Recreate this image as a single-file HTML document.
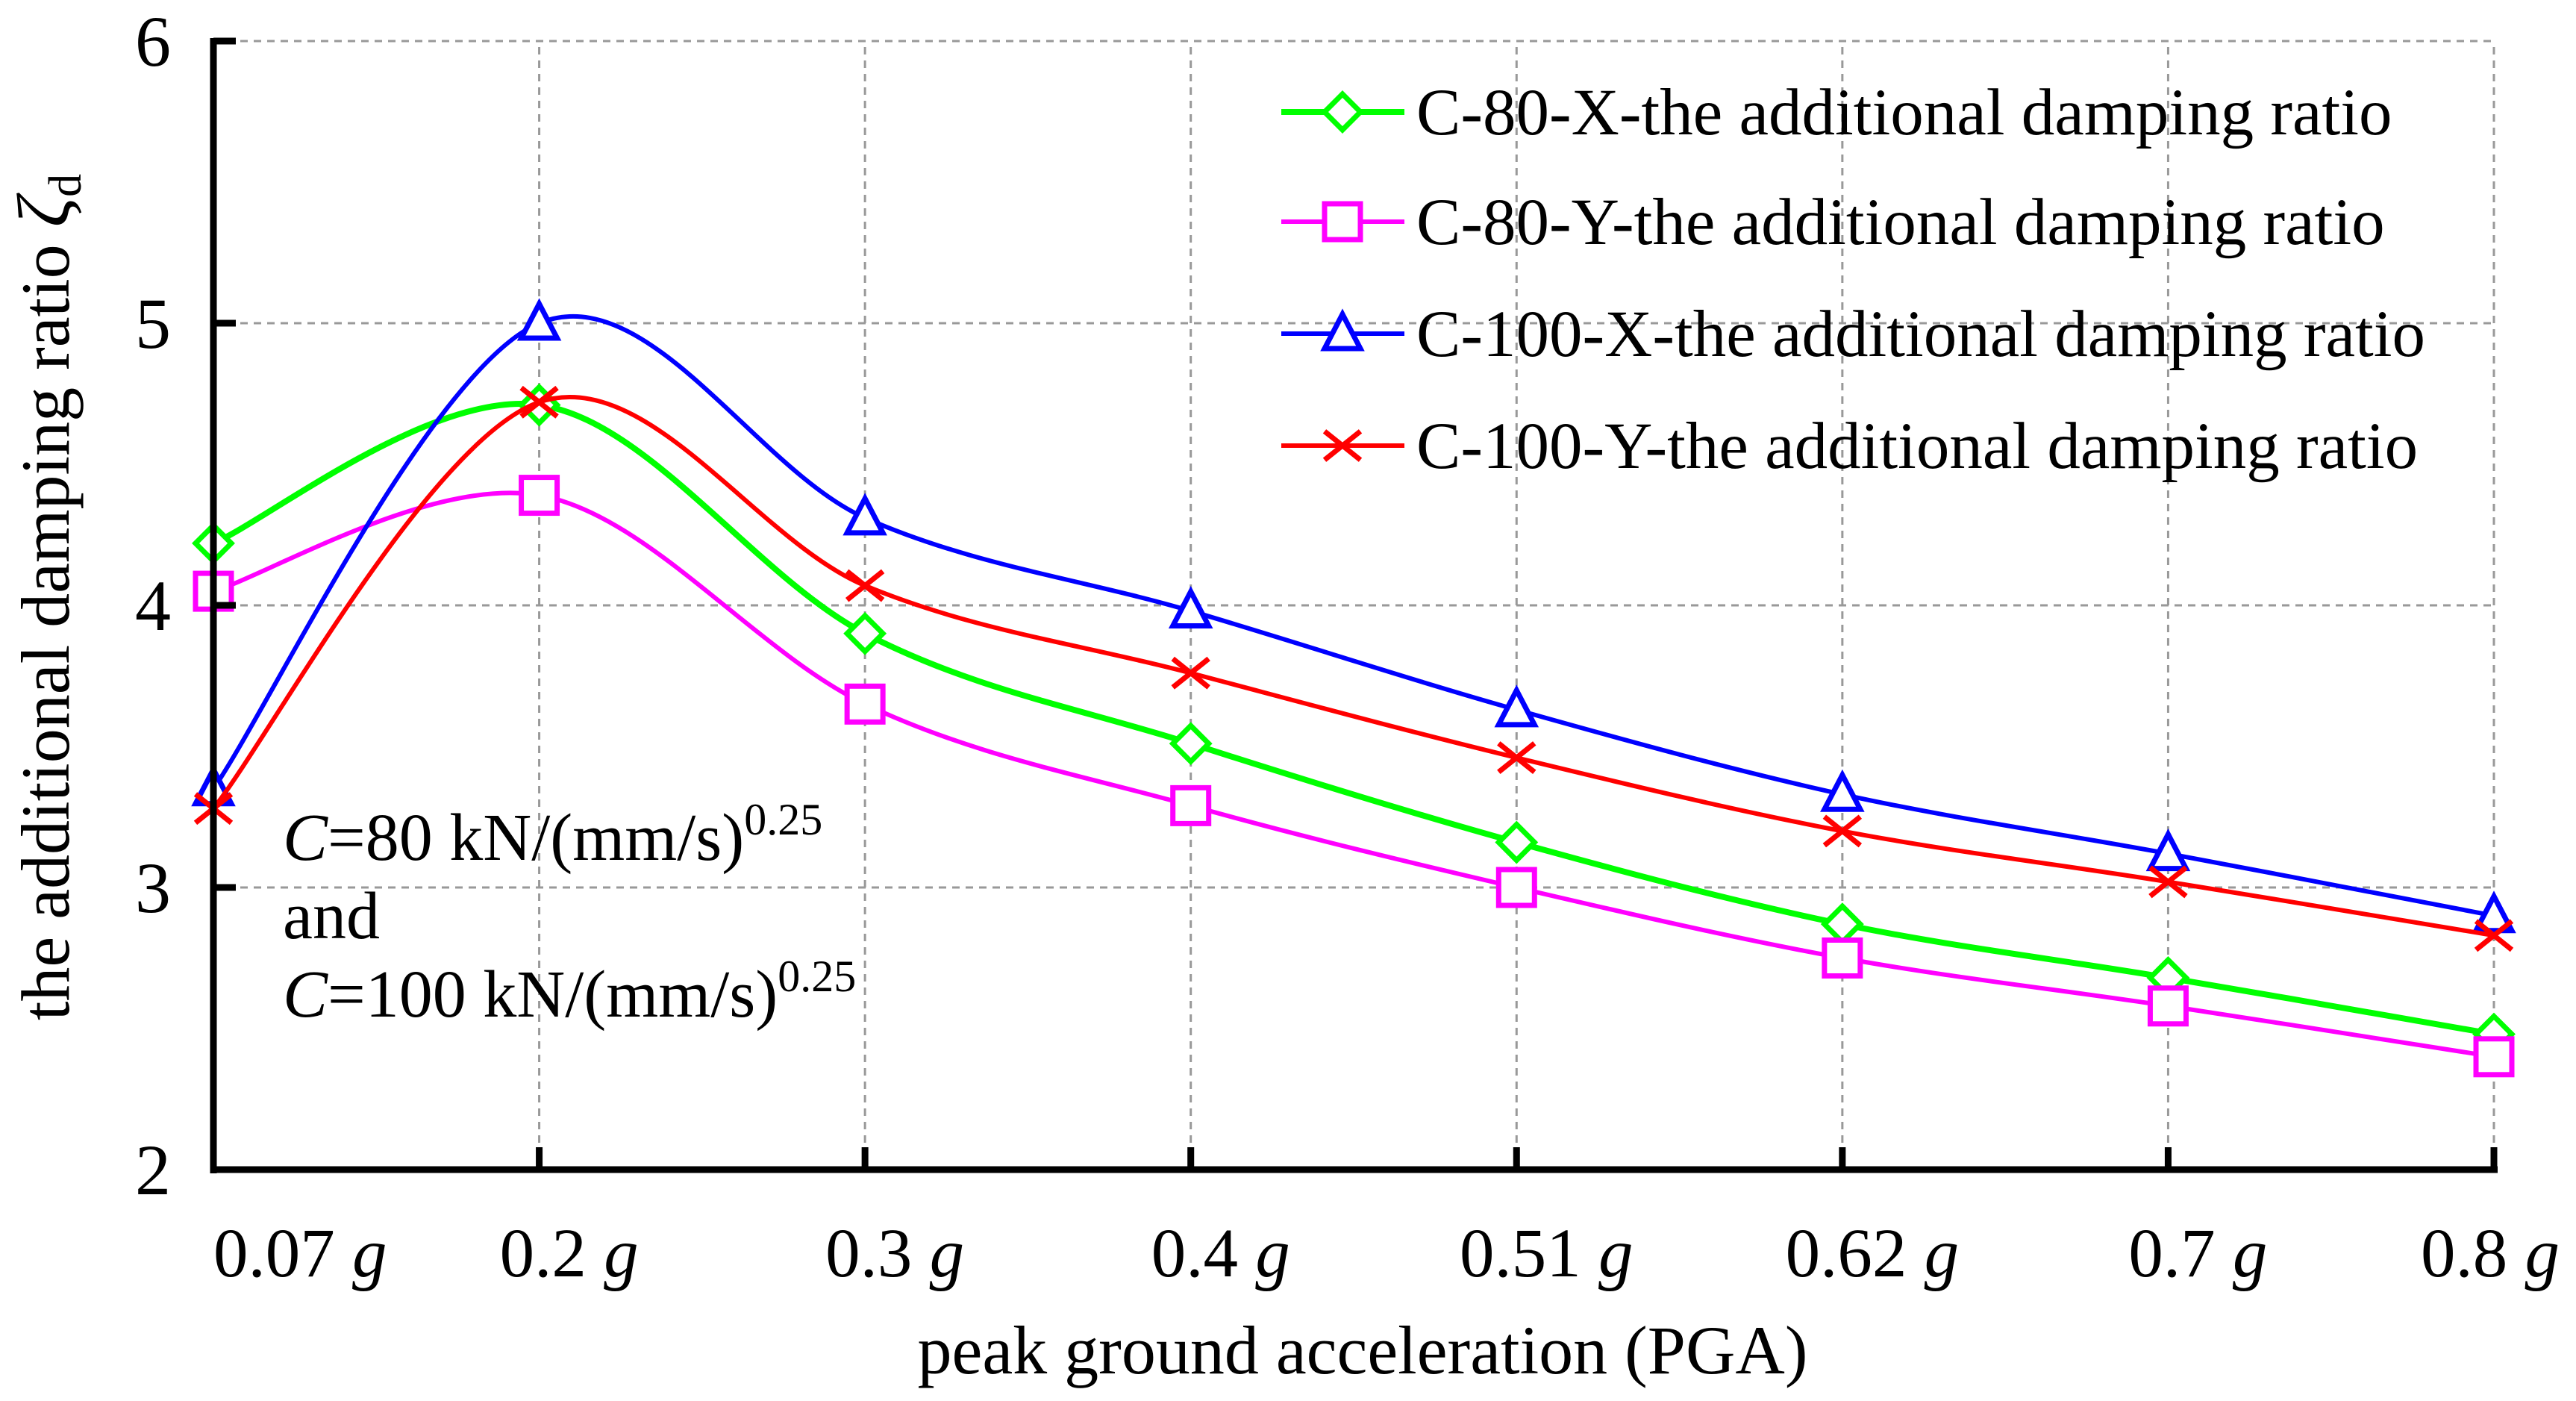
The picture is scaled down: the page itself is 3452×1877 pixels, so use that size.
<!DOCTYPE html>
<html><head><meta charset="utf-8"><style>
html,body{margin:0;padding:0;background:#fff;}
svg{display:block;font-family:"Liberation Serif",serif;}
</style></head><body>
<svg id="chart" width="3452" height="1877" viewBox="0 0 3452 1877" xmlns="http://www.w3.org/2000/svg">
<g id="grid"></g>
<g id="series"></g>
<g id="axes"></g>
<g id="legend"></g>
<text x="92" y="800" transform="rotate(-90 92 800)" text-anchor="middle" font-size="92">the additional  damping ratio <tspan font-style="italic" font-size="100">ζ</tspan><tspan font-size="62" dy="16">d</tspan></text>
<text x="1826" y="1840" text-anchor="middle" font-size="92">peak ground acceleration (PGA)</text>
<g font-size="90">
<text x="379" y="1152"><tspan font-style="italic">C</tspan>=80 kN/(mm/s)<tspan font-size="60" dy="-34">0.25</tspan></text>
<text x="379" y="1257">and</text>
<text x="379" y="1362"><tspan font-style="italic">C</tspan>=100 kN/(mm/s)<tspan font-size="60" dy="-34">0.25</tspan></text>
</g>
</svg>
<script>
const categories = ["0.07","0.2","0.3","0.4","0.51","0.62","0.7","0.8"];
const c80x = [4.22,4.71,3.90,3.51,3.16,2.87,2.68,2.48];
const c80y = [4.05,4.39,3.65,3.29,3.00,2.75,2.58,2.40];
const c100x = [3.35,5.00,4.31,3.98,3.63,3.33,3.12,2.90];
const c100y = [3.28,4.72,4.07,3.76,3.46,3.20,3.02,2.83];
const yTicks = [2,3,4,5,6];
const seriesNames = ["C-80-X-the additional damping ratio","C-80-Y-the additional damping ratio","C-100-X-the additional damping ratio","C-100-Y-the additional damping ratio"];

const NS="http://www.w3.org/2000/svg";
const X0=286, X1=3342, Y0=1567, Y1=55, YMIN=2, YMAX=6;
function xs(i){return X0+(X1-X0)*i/(categories.length-1);}
function ys(v){return Y0-(v-YMIN)/(YMAX-YMIN)*(Y0-Y1);}
function mk(tag,attrs,parent){const e=document.createElementNS(NS,tag);for(const k in attrs)e.setAttribute(k,attrs[k]);parent.appendChild(e);return e;}

const grid=document.getElementById('grid');
yTicks.forEach(t=>{ if(t===YMIN) return;
  const l=mk('line',{x1:X0,x2:X1,y1:ys(t),y2:ys(t),stroke:'#999','stroke-width':3,'stroke-dasharray':'10 8'},grid);
  
  
});
categories.forEach((c,i)=>{ if(i===0) return;
  const l=mk('line',{x1:xs(i),x2:xs(i),y1:Y0,y2:Y1,stroke:'#999','stroke-width':3,'stroke-dasharray':'10 8'},grid);
  
  
});

const axes=document.getElementById('axes');
let a=mk('line',{x1:X0,x2:X0,y1:Y1-4,y2:Y0+5,stroke:'#000','stroke-width':9},axes);


a=mk('line',{x1:X0-4,x2:X1+5,y1:Y0,y2:Y0,stroke:'#000','stroke-width':9},axes);


yTicks.forEach(t=>{
  const tk=mk('line',{x1:X0,x2:X0+30,y1:ys(t),y2:ys(t),stroke:'#000','stroke-width':9},axes);
  
  
  const tx=mk('text',{x:205,y:ys(t)+33,'text-anchor':'middle','font-size':96},axes);
  tx.textContent=t;
  
  
});
categories.forEach((c,i)=>{
  const tk=mk('line',{x1:xs(i),x2:xs(i),y1:Y0,y2:Y0-30,stroke:'#000','stroke-width':9},axes);
  
  
  let anchor='middle', x=xs(i)+40;
  if(i===0){anchor='start';x=X0;}
  if(i===categories.length-1){anchor='end';x=3430;}
  const tx=mk('text',{x:x,y:1710,'text-anchor':anchor,'font-size':93},axes);
  tx.innerHTML=c+' <tspan font-style="italic">g</tspan>';
  
  
});

function smooth(vals){
  const p=vals.map((v,i)=>[xs(i),ys(v)]);
  let d='M'+p[0][0]+','+p[0][1];
  for(let i=0;i<p.length-1;i++){
    const p0=p[Math.max(i-1,0)],p1=p[i],p2=p[i+1],p3=p[Math.min(i+2,p.length-1)];
    const c1=[p1[0]+(p2[0]-p0[0])/6,p1[1]+(p2[1]-p0[1])/6];
    const c2=[p2[0]-(p3[0]-p1[0])/6,p2[1]-(p3[1]-p1[1])/6];
    d+=' C'+c1+' '+c2+' '+p2;
  }
  return d;
}
function marker(type,x,y,color,parent){
  const s=24,w=7;
  if(type==='diamond') return mk('polygon',{points:`${x},${y-s} ${x+s},${y} ${x},${y+s} ${x-s},${y}`,fill:'#fff',stroke:color,'stroke-width':w},parent);
  if(type==='square') return mk('rect',{x:x-s,y:y-s,width:2*s,height:2*s,fill:'#fff',stroke:color,'stroke-width':w},parent);
  if(type==='triangle') return mk('polygon',{points:`${x},${y-s-2} ${x+s},${y+s-4} ${x-s},${y+s-4}`,fill:'#fff',stroke:color,'stroke-width':w},parent);
  const g=mk('g',{},parent);
  mk('line',{x1:x-s,y1:y-s*0.8,x2:x+s,y2:y+s*0.8,stroke:color,'stroke-width':w},g);
  mk('line',{x1:x-s,y1:y+s*0.8,x2:x+s,y2:y-s*0.8,stroke:color,'stroke-width':w},g);
  return g;
}
const seriesData=[c80x,c80y,c100x,c100y];
const colors=['#00ff00','#ff00ff','#0000ff','#ff0000'];
const types=['diamond','square','triangle','cross'];
const widths=[8,6,6,6];
const keys=['c80x','c80y','c100x','c100y'];
const sg=document.getElementById('series');
seriesData.forEach((vals,k)=>{
  const g=mk('g',{},sg);
  
  
  const path=mk('path',{d:smooth(vals),fill:'none',stroke:colors[k],'stroke-width':widths[k]},g);
  
  
  vals.forEach((v,i)=>{
    const m=marker(types[k],xs(i),ys(v),colors[k],g);
    
    
  });
});

const lg=document.getElementById('legend');
const lys=[150,297,447,597];
seriesNames.forEach((n,k)=>{
  const g=mk('g',{},lg);
  
  
  mk('line',{x1:1717,x2:1882,y1:lys[k],y2:lys[k],stroke:colors[k],'stroke-width':widths[k]},g);
  marker(types[k],1799,lys[k],colors[k],g);
  const t=mk('text',{x:1898,y:lys[k]+30,'font-size':89},g);
  t.textContent=n;
});
</script>
</body></html>
